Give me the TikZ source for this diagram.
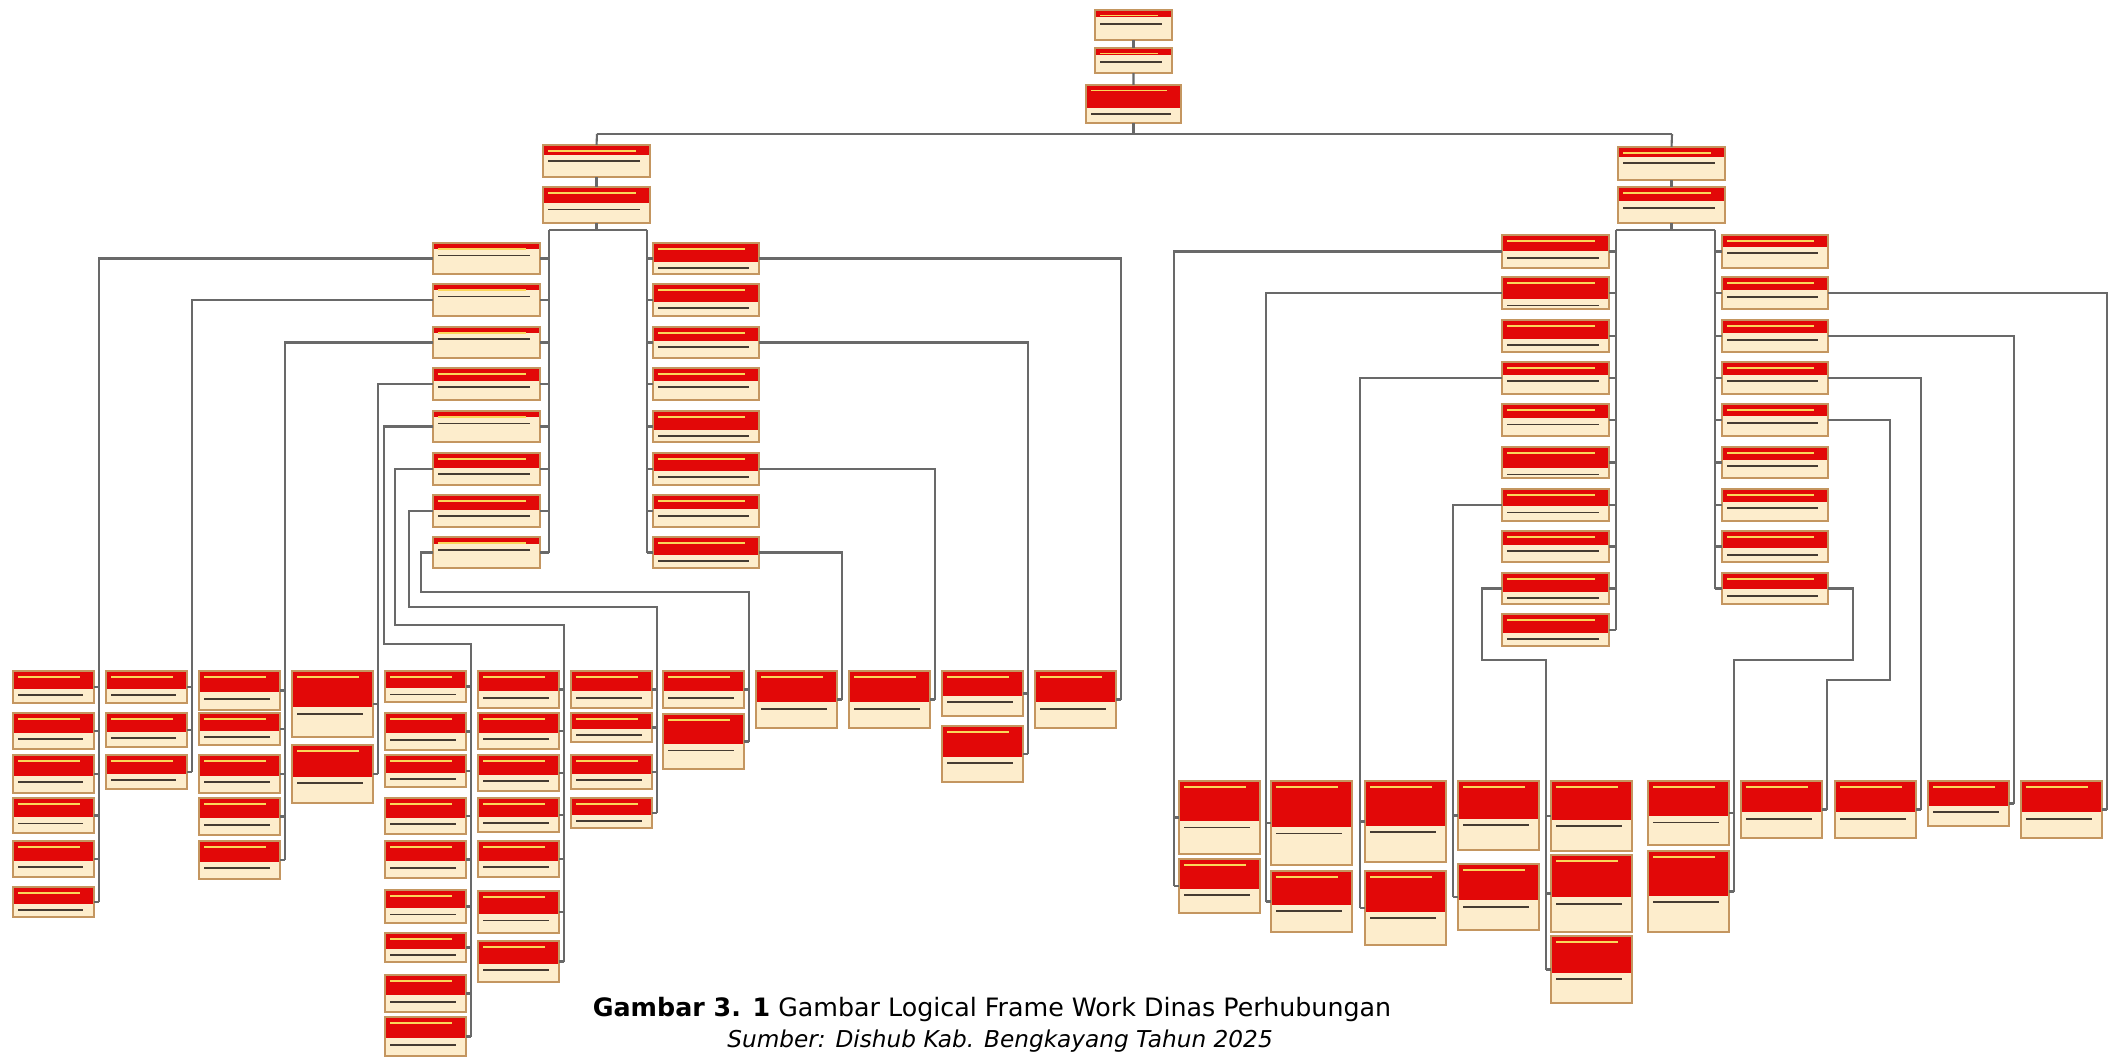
\documentclass[tikz,border=0pt]{standalone}
\usepackage{fontspec}
\newfontfamily\capfont{DejaVu Sans}
\usetikzlibrary{calc}
\definecolor{hdrred}{RGB}{226,8,8}
\definecolor{boxbody}{RGB}{253,237,204}
\definecolor{boxedge}{RGB}{196,150,96}
\definecolor{linkgray}{RGB}{105,105,105}
\definecolor{hdrtxt}{RGB}{250,215,90}
\definecolor{bodytxt}{RGB}{70,60,50}

\tikzset{
  fwbox/.style={draw=boxedge, fill=boxbody, line width=0.4pt, inner sep=0pt, outer sep=0pt,
    anchor=north west, minimum width=0.81cm,
    path picture={
      \fill[hdrred] (path picture bounding box.north west) rectangle ($(path picture bounding box.north east)!#1!(path picture bounding box.south east)$);
      \draw[hdrtxt, line width=0.5pt] ([xshift=1.5pt,yshift=-1.6pt]path picture bounding box.north west) -- ([xshift=-4pt,yshift=-1.6pt]path picture bounding box.north east);
      \draw[bodytxt, line width=0.5pt] ([xshift=1.5pt,yshift=-1.8pt]$(path picture bounding box.north west)!#1!(path picture bounding box.south west)$) -- ([xshift=-3pt,yshift=-1.8pt]$(path picture bounding box.north east)!#1!(path picture bounding box.south east)$);
    }},
  fwbox/.default=0.55,
  link/.style={draw=linkgray, line width=0.6pt},
}

\begin{document}
\begin{tikzpicture}[x=0.01cm, y=-0.01cm]
\useasboundingbox (0,0) rectangle (2118,1061);

% puncak
\node[fwbox=0.25, minimum width=0.77cm, minimum height=0.30cm] (top1) at (1095,10) {};
\node[fwbox=0.3, minimum width=0.77cm, minimum height=0.25cm] (top2) at (1095,48) {};
\node[fwbox=0.6, minimum width=0.95cm, minimum height=0.38cm] (top3) at (1086,85) {};
\draw[link] (top1) -- (top2);
\draw[link] (top2) -- (top3);
\draw[link] (top3.south) -- ++(0,11);
\draw[link] (597,134) -- (1672,134);

% cabang kiri dan kanan
\node[fwbox=0.3, minimum width=1.07cm, minimum height=0.32cm] (kiri1) at (543,145) {};
\node[fwbox=0.45, minimum width=1.07cm, minimum height=0.36cm] (kiri2) at (543,187) {};
\node[fwbox=0.3, minimum width=1.07cm, minimum height=0.33cm] (kanan1) at (1618,147) {};
\node[fwbox=0.4, minimum width=1.07cm, minimum height=0.36cm] (kanan2) at (1618,187) {};
\draw[link] (597,134) -- (kiri1.north);
\draw[link] (1672,134) -- (kanan1.north);
\draw[link] (kiri1) -- (kiri2);
\draw[link] (kanan1) -- (kanan2);
\draw[link] (kiri2.south) -- ++(0,7);
\draw[link] (549,230) -- (647,230);
\draw[link] (kanan2.south) -- ++(0,7);
\draw[link] (1616,230) -- (1715,230);

% program kiri
\foreach \n/\ya/\yb/\hf in {1/243/274/0.2, 2/284/316/0.19, 3/327/358/0.19, 4/368/400/0.4,
    5/411/442/0.2, 6/453/485/0.47, 7/495/527/0.47, 8/537/568/0.22} {
  \node[fwbox=\hf, minimum width=1.07cm, minimum height={(\yb-\ya)*0.01cm}] (kl\n) at (433,\ya) {};
  \draw[link] (kl\n.east) -- (kl\n.east -| 549,0);
}
\foreach \n/\ya/\yb/\hf in {1/243/274/0.6, 2/284/316/0.56, 3/327/358/0.45, 4/368/400/0.4,
    5/411/442/0.6, 6/453/485/0.56, 7/495/527/0.45, 8/537/568/0.58} {
  \node[fwbox=\hf, minimum width=1.06cm, minimum height={(\yb-\ya)*0.01cm}] (kr\n) at (653,\ya) {};
  \draw[link] (kr\n.west) -- (kr\n.west -| 647,0);
}
\draw[link] (549,230) -- (549,0 |- kl8.east);
\draw[link] (647,230) -- (647,0 |- kr8.west);

% program kanan
\foreach \n/\ya/\yb/\hf in {1/235/268/0.5, 2/277/309/0.69, 3/320/352/0.58, 4/362/394/0.4,
    5/404/436/0.44, 6/447/478/0.68, 7/489/521/0.54, 8/531/562/0.45, 9/573/604/0.6, 10/614/646/0.58} {
  \node[fwbox=\hf, minimum width=1.07cm, minimum height={(\yb-\ya)*0.01cm}] (nl\n) at (1502,\ya) {};
  \draw[link] (nl\n.east) -- (nl\n.east -| 1616,0);
}
\foreach \n/\ya/\yb/\hf in {1/235/268/0.36, 2/277/309/0.42, 3/320/352/0.42, 4/362/394/0.4,
    5/404/436/0.39, 6/447/478/0.42, 7/489/521/0.4, 8/531/562/0.56, 9/573/604/0.53} {
  \node[fwbox=\hf, minimum width=1.06cm, minimum height={(\yb-\ya)*0.01cm}] (nr\n) at (1722,\ya) {};
  \draw[link] (nr\n.west) -- (nr\n.west -| 1715,0);
}
\draw[link] (1616,230) -- (1616,0 |- nl10.east);
\draw[link] (1715,230) -- (1715,0 |- nr9.west);

% kegiatan kiri (garis di kanan kolom)
\foreach \c/\x/\boxes in {
    A/13/{1/671/703,2/713/749,3/755/793,4/798/833,5/841/877,6/887/917},
    B/106/{1/671/703,2/713/747,3/755/789},
    C/199/{1/671/710,2/713/745,3/755/793,4/798/835,5/841/879},
    D/292/{1/671/737,2/745/803},
    E/385/{1/671/702,2/713/750,3/755/787,4/798/834,5/841/878,6/890/923,7/933/962,8/975/1012,9/1017/1056},
    F/478/{1/671/708,2/713/749,3/755/791,4/798/832,5/841/877,6/891/933,7/941/982},
    G/571/{1/671/708,2/713/742,3/755/789,4/798/828},
    H/663/{1/671/708,2/714/769},
    I/756/{1/671/728},
    J/849/{1/671/728},
    K/942/{1/671/716,2/726/782},
    L/1035/{1/671/728}} {
  \foreach \n/\ya/\yb in \boxes {
    \node[fwbox, minimum height={(\yb-\ya)*0.01cm}] (\c\n) at (\x,\ya) {};
    \draw[link] (\c\n.east) -- ++(5,0);
  }
}

% kegiatan kanan, garis di kiri kolom
\foreach \c/\x/\boxes in {
    M/1179/{1/781/854,2/859/913},
    N/1271/{1/781/865,2/871/932},
    O/1365/{1/781/862,2/871/945},
    P/1458/{1/781/850,2/864/930},
    Q/1551/{1/781/851,2/855/932,3/936/1003}} {
  \foreach \n/\ya/\yb in \boxes {
    \node[fwbox, minimum height={(\yb-\ya)*0.01cm}] (\c\n) at (\x,\ya) {};
    \draw[link] (\c\n.west) -- ++(-5,0);
  }
}
% kegiatan kanan, garis di kanan kolom
\foreach \c/\x/\boxes in {
    R/1648/{1/781/845,2/851/932},
    S/1741/{1/781/838},
    T/1835/{1/781/838},
    U/1928/{1/781/826},
    V/2021/{1/781/838}} {
  \foreach \n/\ya/\yb in \boxes {
    \node[fwbox, minimum height={(\yb-\ya)*0.01cm}] (\c\n) at (\x,\ya) {};
    \draw[link] (\c\n.east) -- ++(5,0);
  }
}

% penghubung kiri
\draw[link] (kl1.west) -| ([xshift=0.05cm]A6.east);
\draw[link] (kl2.west) -| ([xshift=0.05cm]B3.east);
\draw[link] (kl3.west) -| ([xshift=0.05cm]C5.east);
\draw[link] (kl4.west) -| ([xshift=0.05cm]D2.east);
\draw[link] (kl5.west) -| (384,644) -| ([xshift=0.05cm]E9.east);
\draw[link] (kl6.west) -| (395,625) -| ([xshift=0.05cm]F7.east);
\draw[link] (kl7.west) -| (409,607) -| ([xshift=0.05cm]G4.east);
\draw[link] (kl8.west) -| (421,592) -| ([xshift=0.05cm]H2.east);
\draw[link] (kr1.east) -| ([xshift=0.05cm]L1.east);
\draw[link] (kr3.east) -| ([xshift=0.05cm]K2.east);
\draw[link] (kr6.east) -| ([xshift=0.05cm]J1.east);
\draw[link] (kr8.east) -| ([xshift=0.05cm]I1.east);

% penghubung kanan
\draw[link] (nl1.west) -| ([xshift=-0.05cm]M2.west);
\draw[link] (nl2.west) -| ([xshift=-0.05cm]N2.west);
\draw[link] (nl4.west) -| ([xshift=-0.05cm]O2.west);
\draw[link] (nl7.west) -| ([xshift=-0.05cm]P2.west);
\draw[link] (nl9.west) -| (1482,660) -| ([xshift=-0.05cm]Q3.west);
\draw[link] (nr2.east) -| ([xshift=0.05cm]V1.east);
\draw[link] (nr3.east) -| ([xshift=0.05cm]U1.east);
\draw[link] (nr4.east) -| ([xshift=0.05cm]T1.east);
\draw[link] (nr5.east) -| (1890,680) -| ([xshift=0.05cm]S1.east);
\draw[link] (nr9.east) -| (1853,660) -| ([xshift=0.05cm]R2.east);

% keterangan
\node[font=\capfont\fontsize{7.2}{9}\selectfont, anchor=base] (judul) at (992,1016)
  {\textbf{Gambar 3. 1} Gambar Logical Frame Work Dinas Perhubungan};
\node[font=\capfont\itshape\fontsize{6.6}{8}\selectfont, anchor=base] (sumber) at (1000,1047)
  {Sumber: Dishub Kab. Bengkayang Tahun 2025};
\end{tikzpicture}
\end{document}
